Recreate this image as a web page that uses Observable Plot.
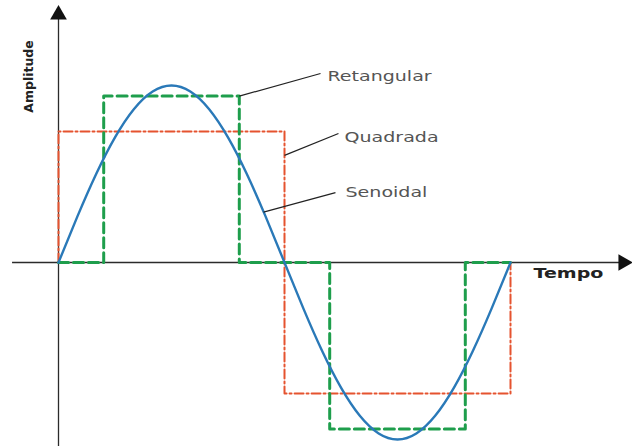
<!DOCTYPE html>
<html>
<head>
<meta charset="utf-8">
<script src="https://cdn.jsdelivr.net/npm/d3@7"></script>
<script src="https://cdn.jsdelivr.net/npm/@observablehq/plot@0.6"></script>
<style>
  html, body { margin: 0; padding: 0; background: #fff; }
  #chart svg { display: block; }
</style>
</head>
<body>
<div id="chart"></div>
<script>
// Time in degrees of one period, amplitude normalised to the sine peak
const sineX = [0,15,30,45,60,75,90,105,120,135,150,165,180,195,210,225,240,255,270,285,300,315,330,345,360];
const sineY = [0,0.259,0.5,0.707,0.866,0.966,1,0.966,0.866,0.707,0.5,0.259,0,-0.259,-0.5,-0.707,-0.866,-0.966,-1,-0.966,-0.866,-0.707,-0.5,-0.259,0];

const squareX = [0, 0, 180, 180, 360, 360];
const squareY = [0, 0.74, 0.74, -0.74, -0.74, 0];

const rectX = [0, 36, 36, 144, 144, 216, 216, 324, 324, 360];
const rectY = [0, 0, 0.94, 0.94, 0, 0, -0.94, -0.94, 0, 0];

const labelNames = ["Retangular", "Quadrada", "Senoidal"];
const labelX = [214.2, 227.8, 228.6];
const labelY = [1.051, 0.706, 0.395];
const leaderX1 = [144, 180, 163.3];
const leaderY1 = [0.94, 0.605, 0.285];
const leaderX2 = [208.7, 223, 220.6];
const leaderY2 = [1.068, 0.729, 0.395];

const axisXExtent = [-36.6, 449.8];
const axisYExtent = [-1.04, 1.40];
const xTitle = "Tempo";
const yTitle = "Amplitude";

const sine = sineX.map((x, i) => ({x, y: sineY[i]}));
const square = squareX.map((x, i) => ({x, y: squareY[i]}));
const rect = rectX.map((x, i) => ({x, y: rectY[i]}));
const labels = labelNames.map((name, i) => ({name, x: labelX[i], y: labelY[i]}));
const leaders = labelNames.map((name, i) => ({x1: leaderX1[i], y1: leaderY1[i], x2: leaderX2[i], y2: leaderY2[i]}));

const axisColor = "#2b2b2b";

const chart = Plot.plot({
  width: 632,
  height: 446,
  marginLeft: 58,
  marginRight: 122,
  marginTop: 85,
  marginBottom: 7,
  x: {domain: [0, 360], axis: null},
  y: {domain: [-1, 1], axis: null},
  style: {fontFamily: "DejaVu Sans", background: "#fff", overflow: "visible"},
  marks: [
    Plot.ruleY([0], {x1: axisXExtent[0], x2: axisXExtent[1], stroke: axisColor, strokeWidth: 1.3}),
    Plot.ruleX([0], {y1: axisYExtent[0], y2: axisYExtent[1], stroke: axisColor, strokeWidth: 1.3}),
    Plot.dot([{x: 0, y: axisYExtent[1]}], {x: "x", y: "y", symbol: "triangle", r: 6.2, fill: "#111", stroke: null}),
    Plot.dot([{x: axisXExtent[1], y: 0}], {x: "x", y: "y", symbol: "triangle", r: 6.2, fill: "#111", stroke: null, rotate: 90}),
    Plot.line(square, {x: "x", y: "y", stroke: "#e5532f", strokeWidth: 2, strokeDasharray: "9,3,2,3"}),
    Plot.line(rect, {x: "x", y: "y", stroke: "#1e9e4c", strokeWidth: 3, strokeDasharray: "10,5"}),
    Plot.line(sine, {x: "x", y: "y", stroke: "#2a79b8", strokeWidth: 2.4, curve: "natural"}),
    Plot.link(leaders, {x1: "x1", y1: "y1", x2: "x2", y2: "y2", stroke: "#222", strokeWidth: 1.2}),
    Plot.text(labels, {x: "x", y: "y", text: "name", textAnchor: "start", lineAnchor: "middle", fontSize: 14, fill: "#555", className: "stretch"}),
    Plot.text([xTitle], {x: 378.3, y: -0.062, text: d => d, textAnchor: "start", lineAnchor: "middle", fontSize: 14, fontWeight: "bold", fill: "#222", className: "stretch"}),
    Plot.text([yTitle], {x: -23.1, y: 1.051, text: d => d, rotate: -90, textAnchor: "middle", lineAnchor: "middle", fontSize: 12.5, fontWeight: "bold", fill: "#222"})
  ]
});

document.getElementById("chart").appendChild(chart);

// horizontal stretch of the label glyphs, as in the reference picture
const stretch = 1.36;
d3.select(chart).selectAll(".stretch text").each(function() {
  const w = this.getComputedTextLength();
  this.setAttribute("textLength", (w * stretch).toFixed(1));
  this.setAttribute("lengthAdjust", "spacingAndGlyphs");
});
</script>
</body>
</html>
